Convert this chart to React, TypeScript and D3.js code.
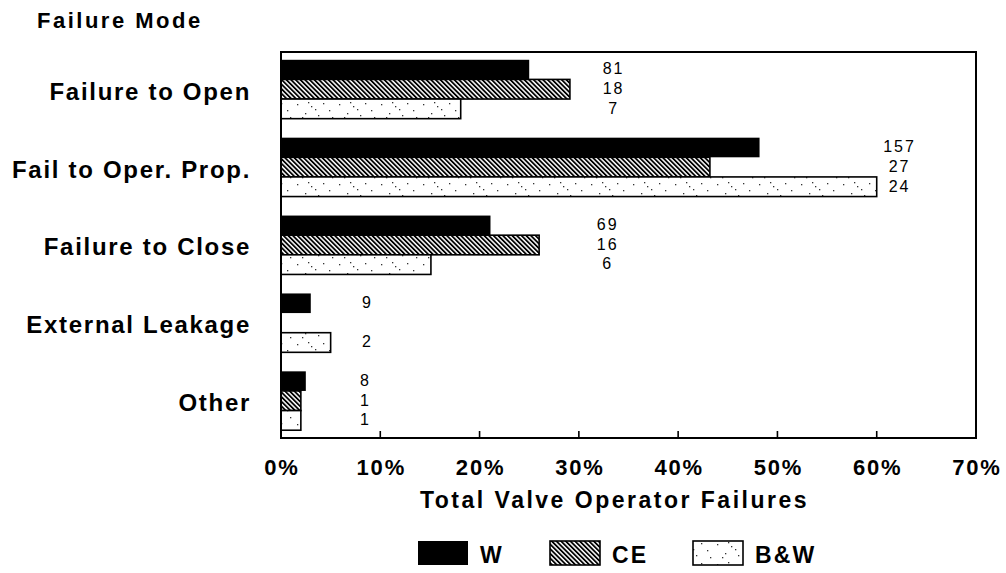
import React from "react";
import * as d3 from "d3";

const categories = ["Failure to Open", "Fail to Oper. Prop.", "Failure to Close", "External Leakage", "Other"];
const seriesNames = ["W", "CE", "B&W"];
// percent of total valve operator failures, per series, per category
const wPct = [25.0, 48.2, 21.1, 3.0, 2.5];
const cePct = [29.1, 43.2, 26.0, 0, 2.0];
const bwPct = [18.1, 60.0, 15.1, 5.0, 2.0];
// failure counts shown beside the bars
const wCount = [81, 157, 69, 9, 8];
const ceCount = [18, 27, 16, null, 1];
const bwCount = [7, 24, 6, 2, 1];
// x position (percent) of count labels per category
const countLabelPos = [33.5, 62.3, 32.9, 8.7, 8.5];
const xTicks = [0, 10, 20, 30, 40, 50, 60, 70];

const W = 1006;
const H = 573;
const FONT = "'Liberation Sans', Arial, Helvetica, sans-serif";

export default function App() {
  const x = d3.scaleLinear().domain([0, 70]).range([281, 976]);
  const y = d3.scaleBand<string>().domain(categories).range([52, 438]).paddingInner(0.244).paddingOuter(0.1);
  const ys = d3.scaleBand<string>().domain(seriesNames).range([0, y.bandwidth()]).padding(0);
  const values = [wPct, cePct, bwPct];
  const counts = [wCount, ceCount, bwCount];
  const fills = ["#000", "url(#hatch)", "url(#dots)"];

  const dotPts: [number, number][] = [
    [3, 4], [11, 13], [17, 6], [24, 15], [29, 3], [35, 10], [8, 17], [21, 9], [38, 17], [14, 2],
  ];

  return (
    <svg width={W} height={H} style={{ display: "block", position: "absolute", left: 0, top: 0, background: "#fff" }}>
      <defs>
        <pattern id="hatch" patternUnits="userSpaceOnUse" width={3.3} height={3.3} patternTransform="rotate(-45)">
          <rect width={3.3} height={3.3} fill="#fff" />
          <line x1={0.9} y1={0} x2={0.9} y2={3.3} stroke="#000" strokeWidth={1.8} />
        </pattern>
        <pattern id="dots" patternUnits="userSpaceOnUse" width={42} height={20}>
          <rect width={42} height={20} fill="#fff" />
          {dotPts.map(([a, b], i) => (
            <rect key={i} x={a} y={b} width={1.3} height={1.3} fill="#333" />
          ))}
        </pattern>
      </defs>
      <rect width={W} height={H} fill="#fff" />

      <text x={37} y={28} fontFamily={FONT} fontWeight="bold" fontSize={22} letterSpacing={2.5} fill="#000">
        Failure Mode
      </text>

      {/* bars */}
      {categories.map((c, ci) => (
        <g key={c}>
          {seriesNames.map((s, si) => {
            const v = values[si][ci];
            const y0 = (y(c) as number) + (ys(s) as number);
            const wdt = x(v) - x(0);
            if (wdt <= 0) return null;
            return (
              <rect
                key={s}
                x={x(0)}
                y={y0}
                width={wdt}
                height={ys.bandwidth()}
                fill={fills[si]}
                stroke="#000"
                strokeWidth={si === 0 ? 0 : 1.6}
              />
            );
          })}
          {seriesNames.map((s, si) => {
            const n = counts[si][ci];
            if (n == null) return null;
            const y0 = (y(c) as number) + (ys(s) as number) + ys.bandwidth() / 2;
            return (
              <text
                key={"t" + s}
                x={x(countLabelPos[ci])}
                y={y0}
                dy="0.3em"
                textAnchor="middle"
                fontFamily={FONT}
                fontSize={16}
                letterSpacing={2}
                fill="#000"
              >
                {n}
              </text>
            );
          })}
          <text
            x={251}
            y={(y(c) as number) + y.bandwidth() / 2 + 2}
            dy="0.35em"
            textAnchor="end"
            fontFamily={FONT}
            fontWeight="bold"
            fontSize={24}
            letterSpacing={1.7}
            fill="#000"
          >
            {c}
          </text>
        </g>
      ))}

      {/* frame */}
      <rect x={x(0)} y={52} width={x(70) - x(0)} height={438 - 52} fill="none" stroke="#000" strokeWidth={2} />

      {/* ticks */}
      {xTicks.slice(1, -1).map((t) => (
        <line key={t} x1={x(t)} x2={x(t)} y1={438} y2={431} stroke="#000" strokeWidth={1.6} />
      ))}
      {xTicks.map((t) => (
        <text
          key={"l" + t}
          x={x(t) + 1}
          y={475}
          textAnchor="middle"
          fontFamily={FONT}
          fontWeight="bold"
          fontSize={22}
          letterSpacing={1.8}
          fill="#000"
        >
          {t + "%"}
        </text>
      ))}
      <text x={(x(0) + x(70)) / 2 - 14} y={508} textAnchor="middle" fontFamily={FONT} fontWeight="bold" fontSize={23} letterSpacing={2.5} fill="#000">
        Total Valve Operator Failures
      </text>

      {/* legend */}
      {seriesNames.map((s, si) => {
        const lx = [418, 550, 693][si];
        return (
          <g key={"lg" + s}>
            <rect x={lx} y={541} width={50} height={24} fill={fills[si]} stroke="#000" strokeWidth={si === 0 ? 0 : 1.6} />
            <text x={lx + 62} y={563} fontFamily={FONT} fontWeight="bold" fontSize={23} letterSpacing={2.2} fill="#000">
              {s}
            </text>
          </g>
        );
      })}
    </svg>
  );
}
